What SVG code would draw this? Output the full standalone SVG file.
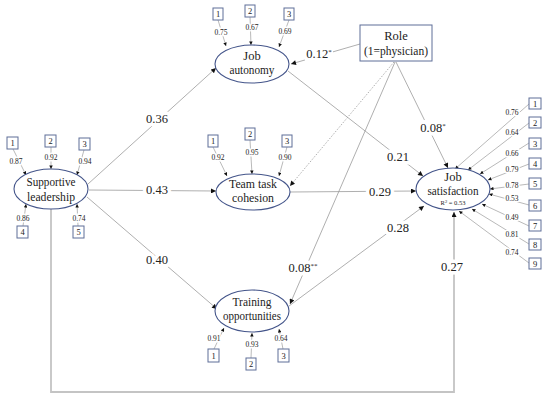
<svg xmlns="http://www.w3.org/2000/svg" width="550" height="400" viewBox="0 0 550 400" font-family="'Liberation Serif', 'Times New Roman', serif">
<style>
text{font-family:"Liberation Serif","Times New Roman",serif;fill:#222}
.ell{fill:#fff;stroke:#44558a;stroke-width:1.1}
.box{fill:#fff;stroke:#5e6e98;stroke-width:1}
.lbl{font-size:12.5px;text-anchor:middle}
.coef{font-size:12.5px;text-anchor:middle;paint-order:stroke;stroke:#fff;stroke-width:7px;stroke-linejoin:round}
.ind{font-size:7.5px;text-anchor:middle;paint-order:stroke;stroke:#fff;stroke-width:3px}
.dig{font-size:8.5px;text-anchor:middle}
.ln{fill:none;stroke:#9a9a9a;stroke-width:0.8}
.iln{fill:none;stroke:#8a8a8a;stroke-width:0.6}
.sup{font-size:7px;stroke-width:0}
.bg{fill:#fff}
</style>
<defs>
<marker id="ah" viewBox="0 0 6 6" refX="6" refY="3" markerWidth="6" markerHeight="5" orient="auto" markerUnits="userSpaceOnUse"><path d="M0,0 L6,3 L0,6 z" fill="#111"/></marker>
<marker id="as" viewBox="0 0 6 6" refX="6" refY="3" markerWidth="4" markerHeight="3.5" orient="auto" markerUnits="userSpaceOnUse"><path d="M0,0 L6,3 L0,6 z" fill="#111"/></marker>
</defs>

<g id="connectors">
<path class="ln" d="M88,184 L216,68" marker-end="url(#ah)"/>
<path class="ln" d="M89,190 L216,191" marker-end="url(#ah)"/>
<path class="ln" d="M87,197 L217,309" marker-end="url(#ah)"/>
<path class="ln" d="M288,71 L423,176" marker-end="url(#ah)"/>
<path class="ln" d="M290,192 L416,191" marker-end="url(#ah)"/>
<path class="ln" d="M289,306 L424,206" marker-end="url(#ah)"/>
<path class="ln" d="M360,44 L291,64" marker-end="url(#ah)"/>
<path class="ln" d="M394,62 L290,186" stroke-dasharray="1.5,1.5" marker-end="url(#ah)"/>
<path class="ln" d="M395,62 L290,304" marker-end="url(#ah)"/>
<path class="ln" d="M396,62 L448,168" marker-end="url(#ah)"/>
<path d="M51,209 L51,392 L454,392 L454,212" fill="none" stroke="#c4c4c4" stroke-width="1.8" marker-end="url(#ah)"/>
<rect class="bg" x="305" y="47" width="28" height="14"/>
<rect class="bg" x="288" y="261" width="32" height="14"/>
<rect class="bg" x="419" y="120" width="28" height="15"/>
<text class="coef" x="157" y="123">0.36</text>
<text class="coef" x="157" y="194">0.43</text>
<text class="coef" x="157" y="264">0.40</text>
<text class="coef" x="398" y="161">0.21</text>
<text class="coef" x="380" y="196">0.29</text>
<text class="coef" x="398" y="232">0.28</text>
<text class="coef" x="452" y="271">0.27</text>
<text class="coef" x="319" y="58">0.12<tspan class="sup" dy="-4">*</tspan></text>
<text class="coef" x="303" y="272">0.08<tspan class="sup" dy="-4">**</tspan></text>
<text class="coef" x="433" y="132">0.08<tspan class="sup" dy="-4">*</tspan></text>
</g>

<g id="supportive-leadership">
<path class="iln" d="M13,149 L26,175" marker-end="url(#as)"/>
<path class="iln" d="M51,147 L51,169" marker-end="url(#as)"/>
<path class="iln" d="M84,150 L77,175" marker-end="url(#as)"/>
<path class="iln" d="M23,226 L26,204" marker-end="url(#as)"/>
<path class="iln" d="M78,226 L77,204" marker-end="url(#as)"/>
<ellipse class="ell" cx="51" cy="189" rx="37" ry="20"/>
<text class="lbl" x="51" y="186" textLength="49" lengthAdjust="spacingAndGlyphs">Supportive</text>
<text class="lbl" x="51" y="201" textLength="48" lengthAdjust="spacingAndGlyphs">leadership</text>
<rect class="box" x="7" y="137" width="11" height="12"/><text class="dig" x="12.5" y="146">1</text>
<rect class="box" x="45" y="135" width="11" height="12"/><text class="dig" x="50.5" y="144">2</text>
<rect class="box" x="79" y="138" width="11" height="12"/><text class="dig" x="84.5" y="147">3</text>
<rect class="box" x="17" y="226" width="11" height="12"/><text class="dig" x="22.5" y="235">4</text>
<rect class="box" x="73" y="226" width="11" height="12"/><text class="dig" x="78.5" y="235">5</text>
<text class="ind" x="16" y="164">0.87</text>
<text class="ind" x="51" y="160">0.92</text>
<text class="ind" x="85" y="164">0.94</text>
<text class="ind" x="23" y="221">0.86</text>
<text class="ind" x="79" y="221">0.74</text>
</g>

<g id="job-autonomy">
<path class="iln" d="M218,20 L226,46" marker-end="url(#as)"/>
<path class="iln" d="M250,17 L251,45" marker-end="url(#as)"/>
<path class="iln" d="M289,20 L279,47" marker-end="url(#as)"/>
<ellipse class="ell" cx="252" cy="64" rx="37" ry="19"/>
<text class="lbl" x="252" y="60">Job</text>
<text class="lbl" x="252" y="74" textLength="45" lengthAdjust="spacingAndGlyphs">autonomy</text>
<rect class="box" x="213" y="8" width="10" height="12"/><text class="dig" x="218" y="17">1</text>
<rect class="box" x="245" y="5" width="10" height="12"/><text class="dig" x="250" y="14">2</text>
<rect class="box" x="284" y="8" width="10" height="12"/><text class="dig" x="289" y="17">3</text>
<text class="ind" x="221" y="35">0.75</text>
<text class="ind" x="252" y="30">0.67</text>
<text class="ind" x="285" y="34">0.69</text>
</g>

<g id="team-task-cohesion">
<path class="iln" d="M213,147 L227,176" marker-end="url(#as)"/>
<path class="iln" d="M250,140 L252,174" marker-end="url(#as)"/>
<path class="iln" d="M287,147 L279,176" marker-end="url(#as)"/>
<ellipse class="ell" cx="253" cy="192" rx="37" ry="18"/>
<text class="lbl" x="253" y="188" textLength="48" lengthAdjust="spacingAndGlyphs">Team task</text>
<text class="lbl" x="253" y="202" textLength="42" lengthAdjust="spacingAndGlyphs">cohesion</text>
<rect class="box" x="208" y="135" width="10" height="12"/><text class="dig" x="213" y="144">1</text>
<rect class="box" x="245" y="128" width="10" height="12"/><text class="dig" x="250" y="137">2</text>
<rect class="box" x="282" y="135" width="10" height="12"/><text class="dig" x="287" y="144">3</text>
<text class="ind" x="218" y="160">0.92</text>
<text class="ind" x="252" y="155">0.95</text>
<text class="ind" x="285" y="160">0.90</text>
</g>

<g id="training-opportunities">
<path class="iln" d="M214,349 L224,328" marker-end="url(#as)"/>
<path class="iln" d="M251,358 L252,333" marker-end="url(#as)"/>
<path class="iln" d="M283,349 L279,329" marker-end="url(#as)"/>
<ellipse class="ell" cx="252" cy="311" rx="37" ry="21"/>
<text class="lbl" x="252" y="306" textLength="39" lengthAdjust="spacingAndGlyphs">Training</text>
<text class="lbl" x="252" y="320" textLength="58" lengthAdjust="spacingAndGlyphs">opportunities</text>
<rect class="box" x="208" y="349" width="11" height="13"/><text class="dig" x="213.5" y="358.5">1</text>
<rect class="box" x="246" y="358" width="10" height="12"/><text class="dig" x="251" y="367">2</text>
<rect class="box" x="278" y="349" width="11" height="13"/><text class="dig" x="283.5" y="358.5">3</text>
<text class="ind" x="214" y="341">0.91</text>
<text class="ind" x="252" y="347">0.93</text>
<text class="ind" x="281" y="341">0.64</text>
</g>

<g id="job-satisfaction">
<path class="iln" d="M529,104 L455,169" marker-end="url(#as)"/>
<path class="iln" d="M529,123 L468,170" marker-end="url(#as)"/>
<path class="iln" d="M529,143 L480,174" marker-end="url(#as)"/>
<path class="iln" d="M529,164 L488,180" marker-end="url(#as)"/>
<path class="iln" d="M529,184 L490,189" marker-end="url(#as)"/>
<path class="iln" d="M529,205 L489,194" marker-end="url(#as)"/>
<path class="iln" d="M529,226 L482,204" marker-end="url(#as)"/>
<path class="iln" d="M529,244 L472,209" marker-end="url(#as)"/>
<path class="iln" d="M529,263 L459,211" marker-end="url(#as)"/>
<ellipse class="ell" cx="453" cy="189" rx="37" ry="21"/>
<text class="lbl" x="453" y="181">Job</text>
<text class="lbl" x="453" y="195" textLength="51" lengthAdjust="spacingAndGlyphs">satisfaction</text>
<text x="453" y="205" font-size="6.5" text-anchor="middle">R<tspan font-size="4.5" dy="-2.5">2</tspan><tspan dy="2.5"> = 0.53</tspan></text>
<rect class="box" x="529" y="98" width="12" height="11"/><text class="dig" x="535" y="106.5">1</text>
<rect class="box" x="529" y="117" width="12" height="11"/><text class="dig" x="535" y="125.5">2</text>
<rect class="box" x="529" y="138" width="12" height="11"/><text class="dig" x="535" y="146.5">3</text>
<rect class="box" x="529" y="158" width="12" height="11"/><text class="dig" x="535" y="166.5">4</text>
<rect class="box" x="529" y="178" width="12" height="11"/><text class="dig" x="535" y="186.5">5</text>
<rect class="box" x="529" y="200" width="12" height="11"/><text class="dig" x="535" y="208.5">6</text>
<rect class="box" x="529" y="220" width="12" height="11"/><text class="dig" x="535" y="228.5">7</text>
<rect class="box" x="529" y="239" width="12" height="11"/><text class="dig" x="535" y="247.5">8</text>
<rect class="box" x="529" y="258" width="12" height="11"/><text class="dig" x="535" y="266.5">9</text>
<text class="ind" x="512" y="115">0.76</text>
<text class="ind" x="512" y="135">0.64</text>
<text class="ind" x="512" y="156">0.66</text>
<text class="ind" x="512" y="172">0.79</text>
<text class="ind" x="512" y="188">0.78</text>
<text class="ind" x="512" y="201">0.53</text>
<text class="ind" x="512" y="220">0.49</text>
<text class="ind" x="512" y="237">0.81</text>
<text class="ind" x="512" y="255">0.74</text>
</g>

<g id="role">
<rect class="box" x="360" y="25" width="72" height="36"/>
<text class="lbl" x="396" y="40">Role</text>
<text class="lbl" x="396" y="55" textLength="64" lengthAdjust="spacingAndGlyphs">(1=physician)</text>
</g>
</svg>
